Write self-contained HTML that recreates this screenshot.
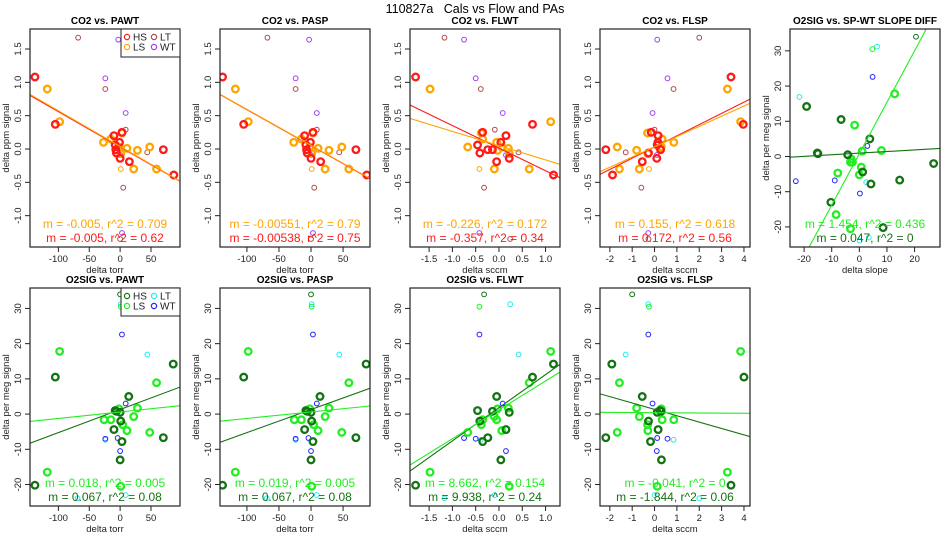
<!DOCTYPE html>
<html><head><meta charset="utf-8">
<style>
html,body{margin:0;padding:0;background:#fff;}
svg{display:block;font-family:"Liberation Sans",Arial,sans-serif;}
</style></head>
<body>
<svg id="chart" width="950" height="550" viewBox="0 0 950 550">
<text x="475" y="13" text-anchor="middle" font-size="12.5" style="white-space:pre">110827a   Cals vs Flow and PAs</text>
</svg>
<script>
// ---- CO2 data (top row) ----
const co2HS_y    = [1.08,0.37,0.20,0.10,0.06,-0.06,-0.01,-0.01,-0.19,-0.14,-0.39,0.25];
const co2HS_pawt = [-138,-105,-10,-1,-8,-6,-7,70,15,0,87,3];
const co2HS_flwt = [-1.79,0.72,0.15,0.04,-0.46,-0.41,-0.24,-0.14,-0.05,0.22,1.17,-0.35];
const co2HS_flsp = [3.42,3.97,0.16,0.15,0.12,-0.27,0.27,-2.18,-0.55,0.10,-1.88,-0.15];
const co2HS_small= [0,0,0,0,0,0,0,0,0,0,0,0];

const co2LS_y    = [0.90,0.41,0.10,0.15,0.24,0.03,-0.07,0.01,-0.02,0.03,-0.30,-0.30,-0.30];
const co2LS_pawt = [-118,-98,-27,-15,3,-2,1,11,28,48,22,59,1];
const co2LS_flwt = [-1.48,1.11,-0.05,-0.35,-0.38,0.06,0.22,0.20,-0.03,-0.67,-0.10,0.65,-0.42];
const co2LS_flsp = [3.26,3.85,0.86,0.34,-0.31,0.3,-0.3,0.24,-0.8,-1.67,-1.57,-0.68,-0.25];
const co2LS_small= [0,0,0,0,0,0,0,0,0,0,0,0,1];

const co2LT_y    = [1.67,0.90,0.29,-0.05,-0.58,-1.35];
const co2LT_pawt = [-68,-24,9,44,5,0];
const co2LT_flwt = [-1.17,-0.39,-0.09,0.42,-0.32,0.24];
const co2LT_flsp = [2.0,0.85,0,-1.29,-0.59,-0.27];

const co2WT_y    = [1.64,1.06,0.54,-0.09,-1.26];
const co2WT_pawt = [-3,-24,9,0,3];
const co2WT_flwt = [-0.75,-0.5,0.08,0.15,-0.42];
const co2WT_flsp = [0.12,0.58,-0.09,0.1,-0.28];

// ---- O2SIG data (bottom row + SP-WT panel) ----
const o2HS_y     = [-20.2,10.5,14.2,5.0,1.0,0.8,0.5,-2.0,-4.4,-7.8,-6.7,-13.0,34];
const o2HS_pawt  = [-138,-105,86,14,-8,-6,0,1,-10,3,70,0,0];
const o2HS_flwt  = [-1.79,0.72,1.17,-0.05,-0.46,-0.14,0.22,-0.41,0.15,-0.35,-0.24,0.04,-0.32];
const o2HS_flsp  = [3.42,4.0,-1.91,-0.55,0.24,0.3,0.12,-0.27,0.16,-0.18,-2.18,0.31,-1.0];
const o2HS_slope = [8.6,-6.6,-19.1,3.8,-15.2,-15.0,-4.2,26.9,1.2,4.2,14.6,-10.3,20.5];
const o2HS_small = [0,0,0,0,0,0,0,0,0,0,0,0,1];

const o2LS_y     = [-16.5,17.8,8.9,1.7,1.5,-1.6,-1.6,-3.0,-0.7,-4.7,-5.2,-20.5,30.5];
const o2LS_pawt  = [-118,-98,59,28,-2,-26,-15,4,22,11,48,1,1];
const o2LS_flwt  = [-1.48,1.11,0.65,0.20,-0.03,-0.35,-0.05,-0.38,-0.10,0.06,-0.67,0.22,-0.42];
const o2LS_flsp  = [3.26,3.85,-1.57,-0.8,0.3,0.34,0.86,-0.31,-0.68,-0.3,-1.67,0.12,-0.25];
const o2LS_slope = [-8.4,12.8,-1.7,8.0,1.0,-3.2,-2.5,0.7,-3.0,-7.8,0,-3.2,4.7];
const o2LS_small = [0,0,0,0,0,0,0,0,0,0,0,0,1];

const o2LT_y     = [31.2,16.9,-7.3,-23.0,-23.9];
const o2LT_pawt  = [1,44,-24,9,-69];
const o2LT_flwt  = [0.24,0.42,-0.39,-0.09,-1.17];
const o2LT_flsp  = [-0.28,-1.29,0.85,0,2.0];
const o2LT_slope = [6.4,-21.7,2.5,3.4,0.1];

const o2WT_y     = [22.6,3.0,-6.8,-7.0,-10.5];
const o2WT_pawt  = [3,9,-4,-24,0];
const o2WT_flwt  = [-0.42,0.08,-0.75,-0.5,0.15];
const o2WT_flsp  = [-0.28,-0.09,0.12,0.58,0.1];
const o2WT_slope = [4.8,2.9,-8.9,-23,0.2];

// ---- fitted lines [slope, intercept] per panel (LS, HS) ----
const fitLS = [[-0.00535,0.039],[-0.0054,0.055],[-0.214,0.05],[0.153,0.033],[1.46,0.8],
               [0.0184,0.6],[0.0184,0.6],[8.2,1.2],[-0.04,0.4]];
const fitHS = [[-0.0053,0.030],[-0.0054,0.05],[-0.339,0.013],[0.168,0.03],[0.046,0.95],
               [0.0656,1.3],[0.0656,1.3],[9.41,1.8],[-1.81,1.33]];
const statLS = ["m = -0.005, r^2 = 0.709","m = -0.00551, r^2 = 0.79","m = -0.226, r^2 = 0.172","m = 0.155, r^2 = 0.618","m = 1.454, r^2 = 0.436",
                "m = 0.018, r^2 = 0.005","m = 0.019, r^2 = 0.005","m = 8.662, r^2 = 0.154","m = -0.041, r^2 = 0"];
const statHS = ["m = -0.005, r^2 = 0.62","m = -0.00538, r^2 = 0.75","m = -0.357, r^2 = 0.34","m = 0.172, r^2 = 0.56","m = 0.047, r^2 = 0",
                "m = 0.067, r^2 = 0.08","m = 0.067, r^2 = 0.08","m = 9.938, r^2 = 0.24","m = -1.844, r^2 = 0.06"];

// ---- tick labels ----
const ticksCO2 = [-1.0,-0.5,0.0,0.5,1.0,1.5];
const ticksO2 = [-20,-10,0,10,20,30];
const ticksTorr = [-100,-50,0,50];
const ticksSccmWT = [-1.5,-1.0,-0.5,0.0,0.5,1.0];
const ticksSccmSP = [-2,-1,0,1,2,3,4];
const ticksSlope = [-20,-10,0,10,20];

const NS = "http://www.w3.org/2000/svg";
const svgRoot = document.getElementById('chart');
function mk(tag, attrs, parent){
  const e = document.createElementNS(NS, tag);
  for (const k in attrs) e.setAttribute(k, attrs[k]);
  (parent||svgRoot).appendChild(e);
  return e;
}
const topCols = {hs:'#ff1a1a', ls:'#ffa500', lt:'#b04848', wt:'#a040f0'};
const botCols = {hs:'#137313', ls:'#22ee22', lt:'#22eeee', wt:'#2020ff'};

function fmt(v, dec){ return dec ? v.toFixed(1) : String(v); }

function panel(i, col, row, title, xr, yr, xt, yt, xdec, ydec, xlab, ylab, groups, cols, legend){
  const L = 30 + 190*col, R = L + 150, T = row ? 288 : 29, B = T + 218;
  const g = mk('g', {});
  
  
  const sx = v => L + (v - xr[0]) / (xr[1] - xr[0]) * 150;
  const sy = v => B - (v - yr[0]) / (yr[1] - yr[0]) * 218;
  const t = mk('text', {x:(L+R)/2, y:T-5, 'text-anchor':'middle', 'font-size':10, 'font-weight':'bold'}, g);
  t.textContent = title;
  
  
  const clip = mk('clipPath', {id:'c'+i}, g);
  mk('rect', {x:L, y:T, width:150, height:218}, clip);
  const pg = mk('g', {'clip-path':'url(#c'+i+')'}, g);
  groups.forEach(gr => {
    gr.x.forEach((xv, k) => {
      const small = gr.small ? gr.small[k] : gr.thin;
      const c = mk('circle', {cx:sx(xv), cy:sy(gr.y[k]), r: small ? 2.4 : 3.3, fill:'none',
        stroke: cols[gr.key], 'stroke-width': small ? 1 : 2.3}, pg);
      
      
    });
  });
  [[fitHS[i], cols.hs, 'fit-line-hs'], [fitLS[i], cols.ls, 'fit-line-ls']].forEach(([f, c, nm]) => {
    const ln = mk('line', {x1:sx(xr[0]), y1:sy(f[1]+f[0]*xr[0]), x2:sx(xr[1]), y2:sy(f[1]+f[0]*xr[1]), stroke:c, 'stroke-width':1.1}, pg);
    
    
  });
  const s1 = mk('text', {x:(L+R)/2, y:B-19, 'text-anchor':'middle', 'font-size':12, fill:cols.ls}, g);
  s1.textContent = statLS[i];
  
  
  const s2 = mk('text', {x:(L+R)/2, y:B-5, 'text-anchor':'middle', 'font-size':12, fill:cols.hs}, g);
  s2.textContent = statHS[i];
  
  
  mk('rect', {x:L, y:T, width:150, height:218, fill:'none', stroke:'#222', 'stroke-width':1.2}, g);
  xt.forEach(v => {
    const x = sx(v);
    mk('line', {x1:x, y1:B, x2:x, y2:B+5, stroke:'#222'}, g);
    const tl = mk('text', {x:x, y:B+15, 'text-anchor':'middle', 'font-size':9.5, fill:'#222'}, g);
    tl.textContent = fmt(v, xdec);
    
    
  });
  yt.forEach(v => {
    const y = sy(v);
    mk('line', {x1:L, y1:y, x2:L-5, y2:y, stroke:'#222'}, g);
    const tl = mk('text', {x:L-9, y:y, 'text-anchor':'middle', 'font-size':9.5, fill:'#222', transform:'rotate(-90 '+(L-9)+' '+y+')'}, g);
    tl.textContent = fmt(v, ydec);
    
    
  });
  const xl = mk('text', {x:(L+R)/2, y:B+26, 'text-anchor':'middle', 'font-size':9.5, fill:'#222'}, g);
  xl.textContent = xlab;
  
  
  const yx = L-21, yy = (T+B)/2;
  const yl = mk('text', {x:yx, y:yy, 'text-anchor':'middle', 'font-size':9.5, fill:'#222', transform:'rotate(-90 '+yx+' '+yy+')'}, g);
  yl.textContent = ylab;
  
  
  if (legend) {
    const lg = mk('g', {}, g);
    
    
    mk('rect', {x:R-59, y:T, width:59, height:28, fill:'#fff', stroke:'#222', 'stroke-width':1}, lg);
    [['hs','HS',0,0],['lt','LT',1,0],['ls','LS',0,1],['wt','WT',1,1]].forEach(([k,lab,cx,cy]) => {
      const ex = R-53 + cx*27, ey = T+8 + cy*10;
      const e = mk('g', {}, lg);
      
      
      mk('circle', {cx:ex, cy:ey, r:2.6, fill:'none', stroke:cols[k], 'stroke-width':1.2}, e);
      const tt = mk('text', {x:ex+6, y:ey+3.5, 'font-size':10, fill:'#222'}, e);
      tt.textContent = lab;
    });
  }
}

const topGroups = (xs) => [
  {key:'lt', x:xs[2], y:co2LT_y, thin:1},
  {key:'wt', x:xs[3], y:co2WT_y, thin:1},
  {key:'ls', x:xs[1], y:co2LS_y, small:co2LS_small},
  {key:'hs', x:xs[0], y:co2HS_y, small:co2HS_small}
];
const botGroups = (xs) => [
  {key:'lt', x:xs[2], y:o2LT_y, thin:1},
  {key:'wt', x:xs[3], y:o2WT_y, thin:1},
  {key:'ls', x:xs[1], y:o2LS_y, small:o2LS_small},
  {key:'hs', x:xs[0], y:o2HS_y, small:o2HS_small}
];
const yrC = [-1.47,1.80], yrO = [-26.1,35.8], yrO5 = [-25.7,36.2];
panel(0,0,0,'CO2 vs. PAWT',[-146,97],yrC,ticksTorr,ticksCO2,false,true,'delta torr','delta ppm signal',
  topGroups([co2HS_pawt,co2LS_pawt,co2LT_pawt,co2WT_pawt]),topCols,true);
panel(1,1,0,'CO2 vs. PASP',[-142,92],yrC,ticksTorr,ticksCO2,false,true,'delta torr','delta ppm signal',
  topGroups([co2HS_pawt,co2LS_pawt,co2LT_pawt,co2WT_pawt]),topCols,false);
panel(2,2,0,'CO2 vs. FLWT',[-1.91,1.31],yrC,ticksSccmWT,ticksCO2,true,true,'delta sccm','delta ppm signal',
  topGroups([co2HS_flwt,co2LS_flwt,co2LT_flwt,co2WT_flwt]),topCols,false);
panel(3,3,0,'CO2 vs. FLSP',[-2.44,4.27],yrC,ticksSccmSP,ticksCO2,false,true,'delta sccm','delta ppm signal',
  topGroups([co2HS_flsp,co2LS_flsp,co2LT_flsp,co2WT_flsp]),topCols,false);
panel(4,4,0,'O2SIG vs. SP-WT SLOPE DIFF',[-25.1,29.2],yrO5,ticksSlope,ticksO2,false,false,'delta slope','delta per meg signal',
  botGroups([o2HS_slope,o2LS_slope,o2LT_slope,o2WT_slope]),botCols,false);
panel(5,0,1,'O2SIG vs. PAWT',[-146,97],yrO,ticksTorr,ticksO2,false,false,'delta torr','delta per meg signal',
  botGroups([o2HS_pawt,o2LS_pawt,o2LT_pawt,o2WT_pawt]),botCols,true);
panel(6,1,1,'O2SIG vs. PASP',[-142,92],yrO,ticksTorr,ticksO2,false,false,'delta torr','delta per meg signal',
  botGroups([o2HS_pawt,o2LS_pawt,o2LT_pawt,o2WT_pawt]),botCols,false);
panel(7,2,1,'O2SIG vs. FLWT',[-1.91,1.31],yrO,ticksSccmWT,ticksO2,true,false,'delta sccm','delta per meg signal',
  botGroups([o2HS_flwt,o2LS_flwt,o2LT_flwt,o2WT_flwt]),botCols,false);
panel(8,3,1,'O2SIG vs. FLSP',[-2.44,4.27],yrO,ticksSccmSP,ticksO2,false,false,'delta sccm','delta per meg signal',
  botGroups([o2HS_flsp,o2LS_flsp,o2LT_flsp,o2WT_flsp]),botCols,false);
</script>
</body></html>
